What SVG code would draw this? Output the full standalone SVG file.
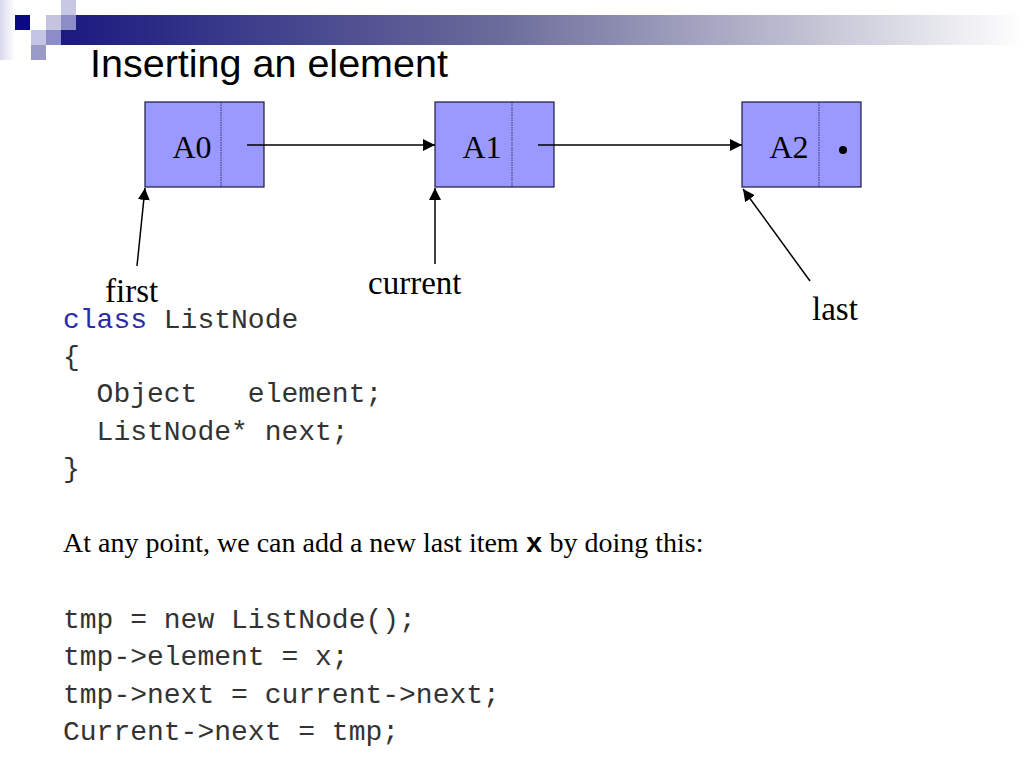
<svg xmlns="http://www.w3.org/2000/svg" width="1024" height="768" viewBox="0 0 1024 768">
<defs>
<linearGradient id="bar" x1="0" y1="0" x2="1" y2="0">
<stop offset="0" stop-color="#1a1a80"/>
<stop offset="0.45" stop-color="#6a6a9a"/>
<stop offset="0.8" stop-color="#c8c8d8"/>
<stop offset="1" stop-color="#ffffff"/>
</linearGradient>
<linearGradient id="side" x1="0" y1="0" x2="1" y2="0">
<stop offset="0" stop-color="#d8d8ec"/>
<stop offset="1" stop-color="#ffffff"/>
</linearGradient>
<marker id="ah" viewBox="0 0 10 10" refX="10" refY="5" markerWidth="12" markerHeight="12" markerUnits="userSpaceOnUse" orient="auto">
<path d="M0,0 L10,5 L0,10 z" fill="#000"/>
</marker>
<style>
.box{fill:#9999ff;stroke:#1a1a40;stroke-width:1.2}
.div{stroke:#333366;stroke-width:1;stroke-dasharray:1.5,1}
.nt{font-family:"Liberation Serif",serif;font-size:32px;fill:#000}
.lbl{font-family:"Liberation Serif",serif;font-size:33px;fill:#000}
.code{font-family:"Liberation Mono",monospace;font-size:28px;fill:#333;white-space:pre}
.kw{fill:#2a2aaa}
.conn{stroke:#000;stroke-width:1.5;fill:none}
.prose{font-family:"Liberation Serif",serif;font-size:28px;fill:#000}
.bx{font-family:"Liberation Mono",monospace;font-weight:bold}
</style>
</defs>
<rect width="1024" height="768" fill="#fff"/>
<g id="header">
<rect x="0" y="0" width="15" height="60" fill="url(#side)"/>
<rect x="61" y="15" width="963" height="30" fill="url(#bar)"/>
<rect x="15" y="15" width="15" height="15" fill="#0a0a80"/>
<rect x="46" y="15" width="15" height="15" fill="#c4c4e0"/>
<rect x="61" y="0" width="15" height="15" fill="#c8c8e4"/>
<rect x="61" y="15" width="15" height="15" fill="#8c8cc8"/>
<rect x="31" y="30" width="15" height="15" fill="#c4c4e4"/>
<rect x="46" y="30" width="15" height="15" fill="#8c8cc8"/>
<rect x="31" y="45" width="15" height="15" fill="#9a9ac8"/>
</g>
<text x="90" y="77" font-family="'Liberation Sans',Arial,sans-serif" font-size="39.5" fill="#000">Inserting an element</text>
<g id="node-A0">
<rect class="box" x="145" y="102" width="119" height="85"/>
<line class="div" x1="221" y1="102" x2="221" y2="187"/>
<text class="nt" x="192" y="158" text-anchor="middle">A0</text>
</g>
<g id="node-A1">
<rect class="box" x="435" y="102" width="119" height="85"/>
<line class="div" x1="512" y1="102" x2="512" y2="187"/>
<text class="nt" x="482" y="158" text-anchor="middle">A1</text>
</g>
<g id="node-A2">
<rect class="box" x="742" y="102" width="119" height="85"/>
<line class="div" x1="819" y1="102" x2="819" y2="187"/>
<text class="nt" x="789" y="158" text-anchor="middle">A2</text>
<circle cx="843" cy="150" r="4" fill="#000"/>
</g>
<g id="connectors">
<line class="conn" x1="247" y1="145" x2="435" y2="145" marker-end="url(#ah)"/>
<line class="conn" x1="538" y1="145" x2="742" y2="145" marker-end="url(#ah)"/>
<line class="conn" x1="137" y1="266" x2="145" y2="188" marker-end="url(#ah)"/>
<line class="conn" x1="435" y1="264" x2="435" y2="188" marker-end="url(#ah)"/>
<line class="conn" x1="810" y1="281" x2="743" y2="189" marker-end="url(#ah)"/>
</g>
<g id="labels">
<text class="lbl" x="105" y="302">first</text>
<text class="lbl" x="368" y="294">current</text>
<text class="lbl" x="812" y="320">last</text>
</g>
<g id="code">
<text class="code" x="63" y="328"><tspan class="kw">class</tspan> ListNode</text>
<text class="code" x="63" y="365">{</text>
<text class="code" x="63" y="402" xml:space="preserve">  Object   element;</text>
<text class="code" x="63" y="440" xml:space="preserve">  ListNode* next;</text>
<text class="code" x="63" y="477">}</text>
<text class="prose" x="63" y="552">At any point, we can add a new last item <tspan class="bx">x</tspan> by doing this:</text>
<text class="code" x="63" y="628">tmp = new ListNode();</text>
<text class="code" x="63" y="665">tmp-&gt;element = x;</text>
<text class="code" x="63" y="703">tmp-&gt;next = current-&gt;next;</text>
<text class="code" x="63" y="740">Current-&gt;next = tmp;</text>
</g>
</svg>
